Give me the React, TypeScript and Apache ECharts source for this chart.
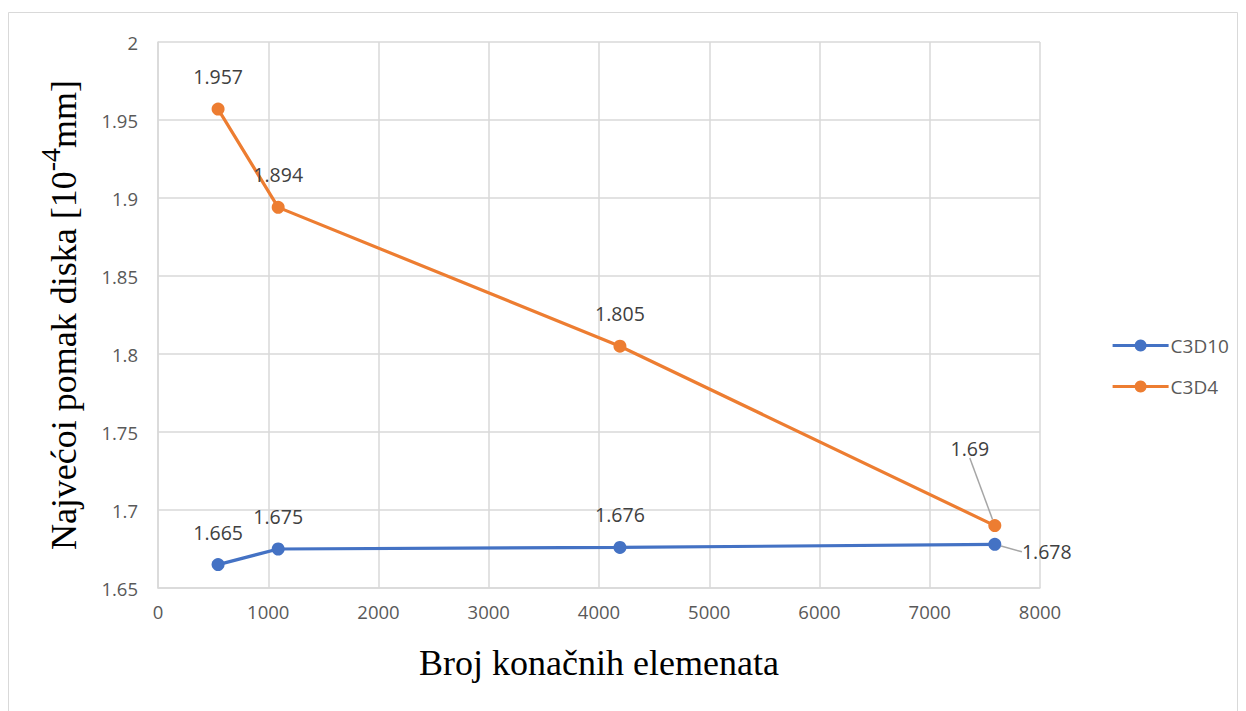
import React, { useEffect, useRef } from "react";
import * as echarts from "echarts";

const xC3D10 = [545, 1090, 4190, 7590];
const yC3D10 = [1.665, 1.675, 1.676, 1.678];
const xC3D4 = [545, 1090, 4190, 7590];
const yC3D4 = [1.957, 1.894, 1.805, 1.69];
const seriesNames = ["C3D10", "C3D4"];
const xTitle = "Broj konačnih elemenata";

export default function App() {
  const ref = useRef<HTMLDivElement>(null);
  useEffect(() => {
    const chart = echarts.init(ref.current!, undefined, { renderer: "svg" });
    const tickFont = { color: "#595959", fontSize: 18.5, fontFamily: "Open Sans" };
    const labelStyle = { show: true, position: "top", distance: 16, color: "#404040", fontSize: 19.5, fontFamily: "Open Sans" };
    chart.setOption({
      animation: false,
      backgroundColor: "#fff",
      graphic: [
        { type: "rect", shape: { x: 8.5, y: 12.5, width: 1229, height: 720 }, style: { fill: "none", stroke: "#d9d9d9", lineWidth: 1 }, silent: true, z: -1 },
      ],
      grid: { left: 158, right: 206, top: 42, bottom: 123 },
      legend: {
        orient: "vertical",
        left: 1106,
        top: 331,
        itemGap: 22,
        itemWidth: 56,
        itemHeight: 15,
        lineStyle: { width: 3.2 },
        textStyle: { color: "#595959", fontSize: 19, fontFamily: "Open Sans", padding: [0, 0, 0, -3] },
        data: seriesNames,
      },
      xAxis: {
        type: "value",
        min: 0,
        max: 8000,
        interval: 1000,
        name: xTitle,
        nameLocation: "middle",
        nameGap: 57,
        nameTextStyle: { fontFamily: "Liberation Serif", fontSize: 36, color: "#000" },
        axisLine: { show: true, lineStyle: { color: "#d9d9d9", width: 1.5 } },
        axisTick: { show: false },
        axisLabel: { ...tickFont, margin: 14, formatter: (v: number) => String(v) },
        splitLine: { show: true, lineStyle: { color: "#d9d9d9", width: 1.5 } },
      },
      yAxis: {
        type: "value",
        min: 1.65,
        max: 2,
        interval: 0.05,
        name: "{m|Najvećoi pomak diska [10}{s|-4}{m|mm]}",
        nameLocation: "middle",
        nameGap: 76,
        nameTextStyle: {
          fontFamily: "Liberation Serif",
          fontSize: 36,
          color: "#000",
          rich: {
            m: { fontFamily: "Liberation Serif", fontSize: 36, color: "#000", verticalAlign: "bottom", lineHeight: 46 },
            s: { fontFamily: "Liberation Serif", fontSize: 28, color: "#000", verticalAlign: "top", lineHeight: 46, padding: [0, 0, 16, 0] },
          },
        },
        axisLine: { show: true, lineStyle: { color: "#d9d9d9", width: 1.5 } },
        axisTick: { show: false },
        axisLabel: { ...tickFont, margin: 20, formatter: (v: number) => String(+v.toFixed(2)) },
        splitLine: { show: true, lineStyle: { color: "#d9d9d9", width: 1.5 } },
      },
      series: [
        {
          name: seriesNames[0],
          type: "line",
          data: xC3D10.map((x, i) => ({
            value: [x, yC3D10[i]],
            labelLine: i === 3 ? { show: true, lineStyle: { color: "#a6a6a6", width: 1.5 } } : undefined,
          })),
          symbol: "circle",
          symbolSize: 13,
          itemStyle: { color: "#4472C4" },
          lineStyle: { color: "#4472C4", width: 3.2 },
          label: { ...labelStyle, formatter: (p: any) => String(p.value[1]) },
          labelLayout: (p: any) => (p.dataIndex === 3 ? { dx: 52, dy: 40 } : {}),
          z: 3,
        },
        {
          name: seriesNames[1],
          type: "line",
          data: xC3D4.map((x, i) => ({
            value: [x, yC3D4[i]],
            labelLine: i === 3 ? { show: true, lineStyle: { color: "#a6a6a6", width: 1.5 } } : undefined,
          })),
          symbol: "circle",
          symbolSize: 13,
          itemStyle: { color: "#ED7D31" },
          lineStyle: { color: "#ED7D31", width: 3.2 },
          label: { ...labelStyle, formatter: (p: any) => String(p.value[1]) },
          labelLayout: (p: any) => (p.dataIndex === 3 ? { dx: -25, dy: -45 } : {}),
          z: 4,
        },
      ],
    });
    return () => chart.dispose();
  }, []);
  return <div ref={ref} style={{ position: "fixed", left: 0, top: 0, width: 1246, height: 711 }} />;
}
